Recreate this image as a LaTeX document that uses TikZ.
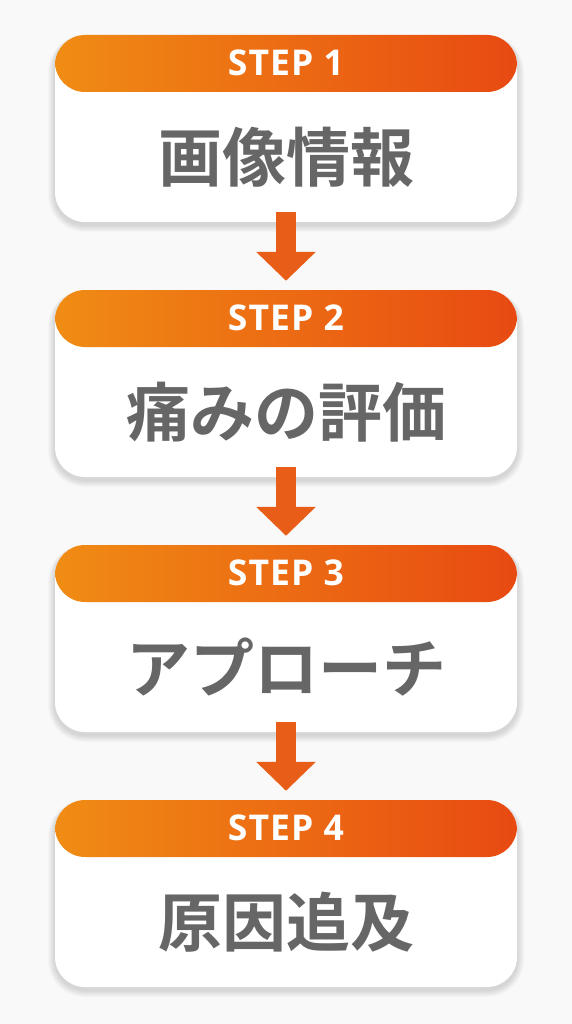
\documentclass[tikz,border=0pt]{standalone}
\usepackage{fontspec}
\newfontfamily\cjk{Noto Sans CJK JP}[UprightFont=* Bold]
\newfontfamily\stepfont{Open Sans}[UprightFont=* Bold, LetterSpace=3]
\usetikzlibrary{arrows.meta}
\definecolor{bgc}{HTML}{F9F9F9}
\definecolor{gradL}{HTML}{F08C14}
\definecolor{gradR}{HTML}{E84A12}
\definecolor{arrc}{HTML}{E85E18}
\definecolor{txtc}{HTML}{666666}
\tikzset{
  stepcard/.style={draw=none, fill=white, rounded corners=30pt, minimum width=462pt, minimum height=187pt, inner sep=0pt,
    path picture={\shade[left color=gradL, right color=gradR] (path picture bounding box.north west) rectangle ([yshift=-57pt]path picture bounding box.north east);}},
  steplabel/.style={text=white, font=\stepfont\fontsize{35.5}{38}\selectfont, inner sep=0pt},
  bodylabel/.style={text=txtc, font=\cjk\fontsize{64}{70}\selectfont, inner sep=0pt},
  flowarrow/.style={draw=arrc, line width=20pt, -{Triangle[length=29pt, width=58pt]}, arrc}
}
\begin{document}
\begin{tikzpicture}[x=1pt, y=-1pt]
\fill[bgc] (0,0) rectangle (572,1024);
\useasboundingbox (0,0) rectangle (572,1024);
\foreach \k/\lab/\body in {1/STEP 1/画像情報, 2/STEP 2/痛みの評価, 3/STEP 3/アプローチ, 4/STEP 4/原因追及}{
  \pgfmathsetmacro{\top}{35+255*(\k-1)}
  \pgfmathsetmacro{\bot}{\top+187}
  \foreach \i in {1,...,7}{
    \fill[black, opacity=0.018, rounded corners=30pt+\i pt] (55-\i, \top+2-\i*0.3) rectangle (517+\i, \bot+3+\i);
  }
  \node[stepcard] (b\k) at (286, \top+93.5) {};
  \node[steplabel] (h\k) at ([yshift=-28.5pt]b\k.north) {\lab};
  \node[bodylabel] (t\k) at ([yshift=65pt]b\k.south) {\body};
}
\foreach \a/\b in {1/2, 2/3, 3/4}{
  \draw[flowarrow] ([yshift=10pt]b\a.south) -- ([yshift=9pt]b\b.north);
}
\end{tikzpicture}
\end{document}
